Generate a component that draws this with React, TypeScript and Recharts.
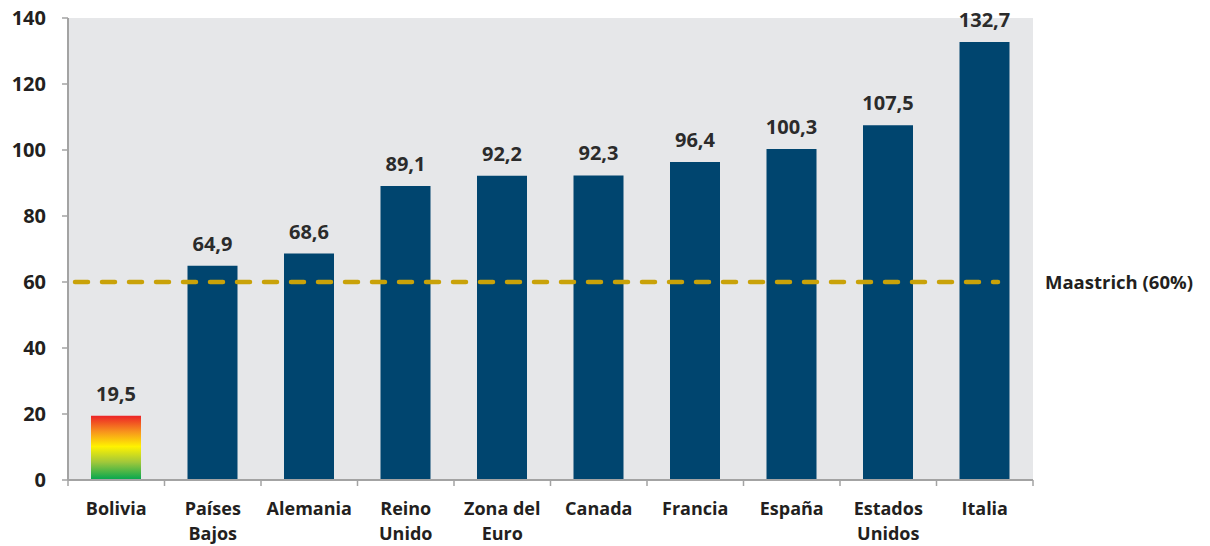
import React from "react";
import {
  BarChart,
  Bar,
  XAxis,
  YAxis,
  CartesianGrid,
  ReferenceLine,
  LabelList,
  Cell,
} from "recharts";

const categories = [
  "Bolivia",
  "Países Bajos",
  "Alemania",
  "Reino Unido",
  "Zona del Euro",
  "Canada",
  "Francia",
  "España",
  "Estados Unidos",
  "Italia",
];
const tickLines: string[][] = [
  ["Bolivia"],
  ["Países", "Bajos"],
  ["Alemania"],
  ["Reino", "Unido"],
  ["Zona del", "Euro"],
  ["Canada"],
  ["Francia"],
  ["España"],
  ["Estados", "Unidos"],
  ["Italia"],
];
const values = [19.5, 64.9, 68.6, 89.1, 92.2, 92.3, 96.4, 100.3, 107.5, 132.7];
const yTicks = [0, 20, 40, 60, 80, 100, 120, 140];
const maastrichtValue = 60;
const maastrichtLabel = "Maastrich (60%)";

const data = categories.map((name, i) => ({ name, value: values[i], idx: i }));

const FONT = "'Open Sans', Lato, sans-serif";
const TEXT = "#231f20";
const AXIS = "#a3a3a3";
const BAR = "#00456f";
const GOLD = "#c9a209";

const fmt = (v: any) => Number(v).toFixed(1).replace(".", ",");

const XTick = (props: any) => {
  const { x, y, payload, index } = props;
  const half = payload && payload.offset ? payload.offset : 0;
  const i0 = payload.index ?? index;
  const lines = tickLines[i0] || [String(payload.value)];
  const isLast = i0 === categories.length - 1;
  return (
    <g>
      <line x1={x - half} x2={x - half} y1={y - 6} y2={y} stroke={AXIS} strokeWidth={1.5} />
      {isLast && (
        <line x1={x + half} x2={x + half} y1={y - 6} y2={y} stroke={AXIS} strokeWidth={1.5} />
      )}
      <text
        x={x}
        y={y}
        textAnchor="middle"
        fontFamily={FONT}
        fontWeight={700}
        fontSize={18}
        fill={TEXT}
      >
        {lines.map((l, i) => (
          <tspan key={i} x={x} y={y + 29 + i * 25}>
            {l}
          </tspan>
        ))}
      </text>
    </g>
  );
};

const DashShape = (props: any) => {
  const { x1, x2, y1, y2 } = props;
  return (
    <line
      x1={x1 + 7}
      x2={x2 - 35}
      y1={y1}
      y2={y2}
      stroke={GOLD}
      strokeWidth={4.5}
      strokeLinecap="round"
      strokeDasharray="13 14"
    />
  );
};

export default function App() {
  return (
    <div style={{ position: "absolute", left: 0, top: 0, background: "#fff" }}>
      <BarChart
        width={1210}
        height={546}
        data={data}
        margin={{ top: 18, right: 177, left: 0, bottom: 0 }}
        barSize={50}
      >
        <defs>
          <linearGradient id="boliviaGrad" x1="0" y1="0" x2="0" y2="1">
            <stop offset="0%" stopColor="#ec2227" />
            <stop offset="25%" stopColor="#f7941d" />
            <stop offset="48%" stopColor="#fff200" />
            <stop offset="72%" stopColor="#a2c83a" />
            <stop offset="100%" stopColor="#00a650" />
          </linearGradient>
        </defs>
        <CartesianGrid fill="#e6e7e9" horizontal={false} vertical={false} stroke="none" />
        <XAxis
          dataKey="name"
          height={66}
          tickSize={6}
          tickMargin={0}
          tickLine={false}
          axisLine={{ stroke: AXIS, strokeWidth: 2 }}
          tick={<XTick />}
          interval={0}
        />
        <YAxis
          width={68}
          domain={[0, 140]}
          ticks={yTicks}
          tickSize={6}
          tickMargin={16}
          axisLine={{ stroke: AXIS, strokeWidth: 2 }}
          tickLine={{ stroke: AXIS, strokeWidth: 1.5 }}
          tick={{ fontFamily: FONT, fontWeight: 700, fontSize: 20, fill: TEXT }}
          interval={0}
        />
        <Bar dataKey="value" fill={BAR} isAnimationActive={false}>
          {data.map((d, i) => (
            <Cell key={i} fill={i === 0 ? "url(#boliviaGrad)" : BAR} />
          ))}
          <LabelList
            dataKey="value"
            position="top"
            offset={15}
            formatter={fmt}
            style={{ fontFamily: FONT, fontWeight: 700, fontSize: 20, fill: "#2b2b2b" }}
          />
        </Bar>
        <ReferenceLine
          y={maastrichtValue}
          shape={<DashShape />}
          label={{
            value: maastrichtLabel,
            position: "right",
            offset: 12,
            style: { fontFamily: FONT, fontWeight: 700, fontSize: 18.5, fill: TEXT },
          }}
        />
      </BarChart>
    </div>
  );
}
